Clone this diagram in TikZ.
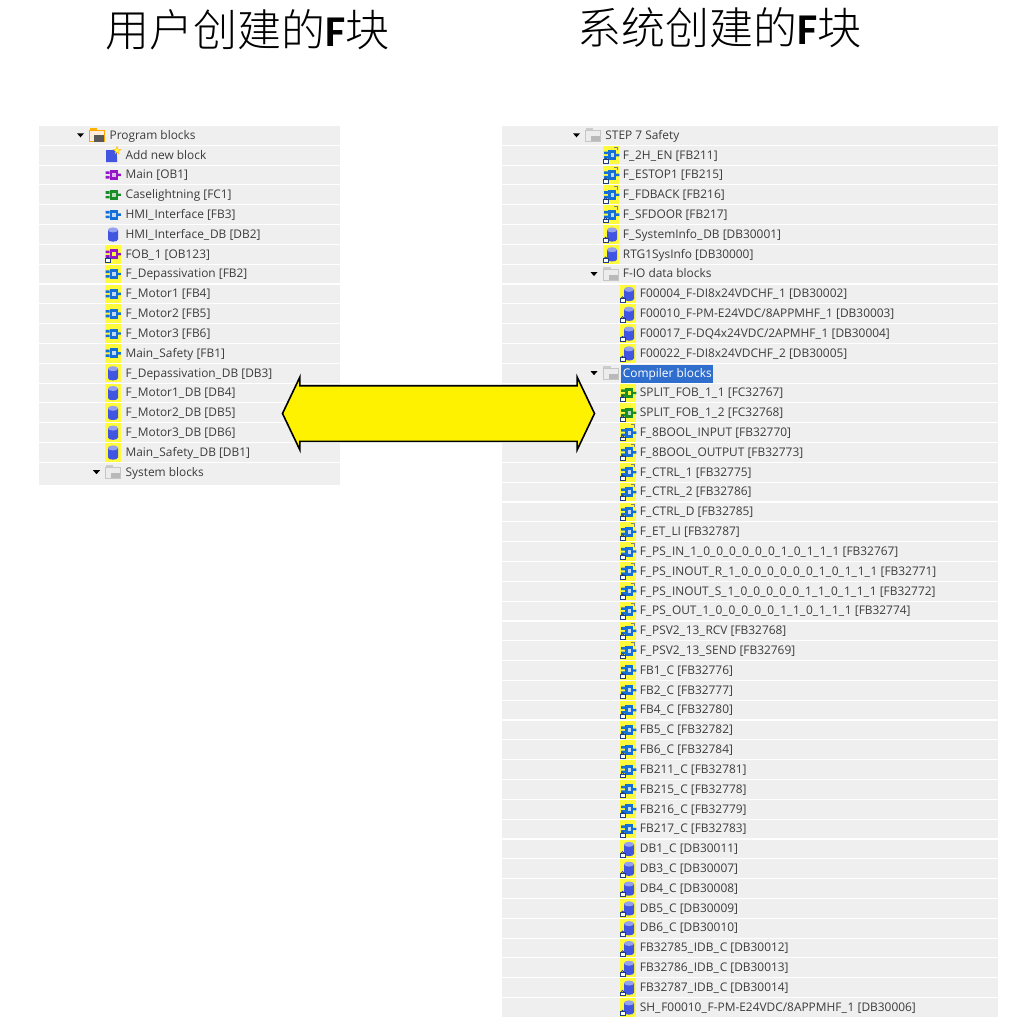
\documentclass[tikz,border=0pt]{standalone}
\usepackage{fontspec}
\usepackage{xcolor}
\usetikzlibrary{shapes.arrows, positioning, calc}
\setmainfont{Open Sans}
\newfontfamily\cjk{Noto Sans CJK SC Light}
\newfontfamily\titlelatin{Carlito}
\renewcommand{\_}{\textunderscore\kern0.8pt}
\definecolor{rowgray}{RGB}{239,239,239}
\definecolor{labelgray}{RGB}{60,60,60}
\definecolor{fbblue}{RGB}{20,110,215}
\definecolor{dbblue}{RGB}{65,85,225}
\definecolor{obpurple}{RGB}{150,20,200}
\definecolor{fcgreen}{RGB}{25,140,40}
\definecolor{markyellow}{RGB}{255,250,60}
\definecolor{selblue}{RGB}{48,110,205}
\definecolor{lockblue}{RGB}{30,60,130}

% block icon: colour, inner colour
\newcommand{\blockshape}[2]{
  \fill[#1] (-3.5,-5) rectangle (4.5,5);
  \fill[#1] (-7.5,-3.6) rectangle (-3.5,-1) (-7.5,1) rectangle (-3.5,3.6) (4.5,-1.2) rectangle (7.8,1.2);
  \fill[#2] (-1,-2) rectangle (2.5,2);
}
\newcommand{\cylshape}{
  \fill[dbblue] (-5,-4.5) -- (-5,5) .. controls (-5,8) and (5,8) .. (5,5) -- (5,-4.5) -- cycle;
  \fill[dbblue!55!white] (0,-4.5) ellipse (5 and 2.5);
}
\newcommand{\lockshape}{
  \draw[lockblue, line width=0.7pt] (-6.3,4.2) arc (180:360:1.4);
  \fill[white, draw=lockblue, line width=0.7pt] (-7.2,4.3) rectangle (-2.6,8.2);
}
\newcommand{\cornershape}{
  \draw[gray, line width=1pt] (3.5,-7.8) -- (7,-7.8) (7,-7.8) -- (7,-5);
}
\tikzset{
  x=1pt, y=-1pt,
  rowbg/.style={fill=rowgray, draw=none},
  rowlabel/.style={anchor=mid west, inner sep=0pt, text=labelgray, font=\fontsize{11.9}{13}\selectfont},
  titlelabel/.style={anchor=west, inner sep=0pt, text=black, font=\cjk\fontsize{44}{50}\selectfont},
  pics/obi/.style={code={\blockshape{obpurple}{obpurple!30!white}}},
  pics/fci/.style={code={\blockshape{fcgreen}{fcgreen!30!white}}},
  pics/fbi/.style={code={\blockshape{fbblue}{fbblue!25!white}}},
  pics/dbi/.style={code={\cylshape}},
  pics/addi/.style={code={
    \fill[dbblue] (-7,-5) rectangle (4,7);
    \fill[dbblue] (-7,7) -- (4,7) -- (4,2) -- cycle;
    \fill[markyellow, draw=orange!70!yellow, line width=0.3pt] (4,-9) -- (5,-6) -- (8,-5.5) -- (5.5,-4) -- (6,-1) -- (4,-3) -- (2,-1) -- (2.5,-4) -- (0,-5.5) -- (3,-6) -- cycle;}},
  pics/ffb/.style={code={\fill[markyellow] (-8,-9.3) rectangle (8,9.3); \blockshape{fbblue}{fbblue!25!white}}},
  pics/fdb/.style={code={\fill[markyellow] (-8,-9.3) rectangle (8,9.3); \cylshape}},
  pics/fob/.style={code={\fill[markyellow] (-8,-9.3) rectangle (8,9.3); \blockshape{obpurple}{markyellow}\lockshape}},
  pics/sfb/.style={code={\fill[markyellow] (-8,-9.3) rectangle (8,9.3);
    \begin{scope}[shift={(1,0)}]\blockshape{fbblue}{fbblue!25!white}\end{scope}\cornershape\lockshape}},
  pics/scb/.style={code={\fill[markyellow] (-8,-9.3) rectangle (8,9.3);
    \begin{scope}[shift={(1,0)}]\blockshape{fbblue}{fbblue!25!white}\end{scope}\lockshape}},
  pics/sdb/.style={code={\fill[markyellow] (-8,-9.3) rectangle (8,9.3);
    \begin{scope}[shift={(1.5,0)}]\cylshape\end{scope}\lockshape}},
  pics/sfa/.style={code={\fill[markyellow] (-8,-9.3) rectangle (8,9.3);
    \begin{scope}[shift={(1,0)}]\blockshape{fcgreen}{markyellow}\end{scope}\lockshape}},
  pics/sfc/.style={code={\fill[markyellow] (-8,-9.3) rectangle (8,9.3);
    \begin{scope}[shift={(1,0)}]\blockshape{fcgreen}{fcgreen!30!white}\end{scope}\lockshape}},
  pics/pfold/.style={code={
    \fill[black] (-20,-2) -- (-13,-2) -- (-16.5,2) -- cycle;
    \fill[orange!60!yellow] (-7.5,-7) rectangle (0,-4);
    \fill[white!85!orange, draw=orange!70!yellow, line width=0.8pt] (-7.5,-5) rectangle (7.5,6);
    \fill[gray!70!black] (-3,0) rectangle (7,7);}},
  pics/gfold/.style={code={
    \fill[black] (-20,-2) -- (-13,-2) -- (-16.5,2) -- cycle;
    \fill[gray!40] (-7.5,-7) rectangle (0,-4);
    \fill[gray!15, draw=gray!45, line width=0.8pt] (-7.5,-5) rectangle (7.5,6);
    \fill[gray!55] (-2,1) rectangle (7,6);}}
}

\begin{document}
\begin{tikzpicture}
\useasboundingbox (0,0) rectangle (1014,1029);

% Titles
\node[titlelabel] (usertitle) at (105,30) {用户创建的{\titlelatin\bfseries F}块};
\node[titlelabel] (systitle) at (577,28) {系统创建的{\titlelatin\bfseries F}块};

% Row stripes
\foreach \i in {0,...,17}
  \fill[rowbg] (39,{126+19.82*\i}) rectangle (340,{144.7+19.82*\i});
\fill[rowbg] (39,482) rectangle (340,485);
\foreach \i in {0,...,44}
  \fill[rowbg] (502,{126+19.82*\i}) rectangle (998,{144.7+19.82*\i});

% Selected row
\fill[selblue] (621,365) rectangle (713,383);

% User blocks
\foreach \ix/\ic/\txt [count=\i from 0] in {
  97/pfold/{Program blocks},
  113/addi/{Add new block},
  113/obi/{Main [OB1]},
  113/fci/{Caselightning [FC1]},
  113/fbi/{HMI\_Interface [FB3]},
  113/dbi/{HMI\_Interface\_DB [DB2]},
  113/fob/{FOB\_1 [OB123]},
  113/ffb/{F\_Depassivation [FB2]},
  113/ffb/{F\_Motor1 [FB4]},
  113/ffb/{F\_Motor2 [FB5]},
  113/ffb/{F\_Motor3 [FB6]},
  113/ffb/{Main\_Safety [FB1]},
  113/fdb/{F\_Depassivation\_DB [DB3]},
  113/fdb/{F\_Motor1\_DB [DB4]},
  113/fdb/{F\_Motor2\_DB [DB5]},
  113/fdb/{F\_Motor3\_DB [DB6]},
  113/fdb/{Main\_Safety\_DB [DB1]},
  113/gfold/{System blocks}}
{
  \pic at (\ix,{135.3+19.82*\i}) {\ic};
  \node[rowlabel] (user\i) at ({\ix+12.4},{136.5+19.82*\i}) {\txt};
}

% System blocks
\foreach \ix/\ic/\txt [count=\i from 0] in {
  593/gfold/{STEP 7 Safety},
  610.5/sfb/{F\_2H\_EN [FB211]},
  610.5/sfb/{F\_ESTOP1 [FB215]},
  610.5/sfb/{F\_FDBACK [FB216]},
  610.5/sfb/{F\_SFDOOR [FB217]},
  610.5/sdb/{F\_SystemInfo\_DB [DB30001]},
  610.5/sdb/{RTG1SysInfo [DB30000]},
  610.5/gfold/{F-IO data blocks},
  627.5/sdb/{F00004\_F-DI8x24VDCHF\_1 [DB30002]},
  627.5/sdb/{F00010\_F-PM-E24VDC/8APPMHF\_1 [DB30003]},
  627.5/sdb/{F00017\_F-DQ4x24VDC/2APMHF\_1 [DB30004]},
  627.5/sdb/{F00022\_F-DI8x24VDCHF\_2 [DB30005]},
  610.5/gfold/{\textcolor{white}{Compiler blocks}},
  627.5/sfa/{SPLIT\_FOB\_1\_1 [FC32767]},
  627.5/sfc/{SPLIT\_FOB\_1\_2 [FC32768]},
  627.5/sfb/{F\_8BOOL\_INPUT [FB32770]},
  627.5/sfb/{F\_8BOOL\_OUTPUT [FB32773]},
  627.5/sfb/{F\_CTRL\_1 [FB32775]},
  627.5/sfb/{F\_CTRL\_2 [FB32786]},
  627.5/sfb/{F\_CTRL\_D [FB32785]},
  627.5/sfb/{F\_ET\_LI [FB32787]},
  627.5/sfb/{F\_PS\_IN\_1\_0\_0\_0\_0\_0\_0\_1\_0\_1\_1\_1 [FB32767]},
  627.5/sfb/{F\_PS\_INOUT\_R\_1\_0\_0\_0\_0\_0\_0\_1\_0\_1\_1\_1 [FB32771]},
  627.5/sfb/{F\_PS\_INOUT\_S\_1\_0\_0\_0\_0\_0\_1\_1\_0\_1\_1\_1 [FB32772]},
  627.5/sfb/{F\_PS\_OUT\_1\_0\_0\_0\_0\_0\_1\_1\_0\_1\_1\_1 [FB32774]},
  627.5/sfb/{F\_PSV2\_13\_RCV [FB32768]},
  627.5/sfb/{F\_PSV2\_13\_SEND [FB32769]},
  627.5/scb/{FB1\_C [FB32776]},
  627.5/scb/{FB2\_C [FB32777]},
  627.5/scb/{FB4\_C [FB32780]},
  627.5/scb/{FB5\_C [FB32782]},
  627.5/scb/{FB6\_C [FB32784]},
  627.5/scb/{FB211\_C [FB32781]},
  627.5/scb/{FB215\_C [FB32778]},
  627.5/scb/{FB216\_C [FB32779]},
  627.5/scb/{FB217\_C [FB32783]},
  627.5/sdb/{DB1\_C [DB30011]},
  627.5/sdb/{DB3\_C [DB30007]},
  627.5/sdb/{DB4\_C [DB30008]},
  627.5/sdb/{DB5\_C [DB30009]},
  627.5/sdb/{DB6\_C [DB30010]},
  627.5/sdb/{FB32785\_IDB\_C [DB30012]},
  627.5/sdb/{FB32786\_IDB\_C [DB30013]},
  627.5/sdb/{FB32787\_IDB\_C [DB30014]},
  627.5/sdb/{SH\_F00010\_F-PM-E24VDC/8APPMHF\_1 [DB30006]}}
{
  \pic at (\ix,{135.3+19.82*\i}) {\ic};
  \node[rowlabel] (sys\i) at ({\ix+12.2},{136.5+19.82*\i}) {\txt};
}

% Double arrow
\node[double arrow, draw=black, line width=1.6pt, fill=yellow, inner xsep=0pt, inner ysep=27pt,
  minimum height=312pt, minimum width=71pt, double arrow head extend=8.5pt,
  double arrow tip angle=129] (linkarrow) at (438.5,413.5) {};

\end{tikzpicture}
\end{document}
